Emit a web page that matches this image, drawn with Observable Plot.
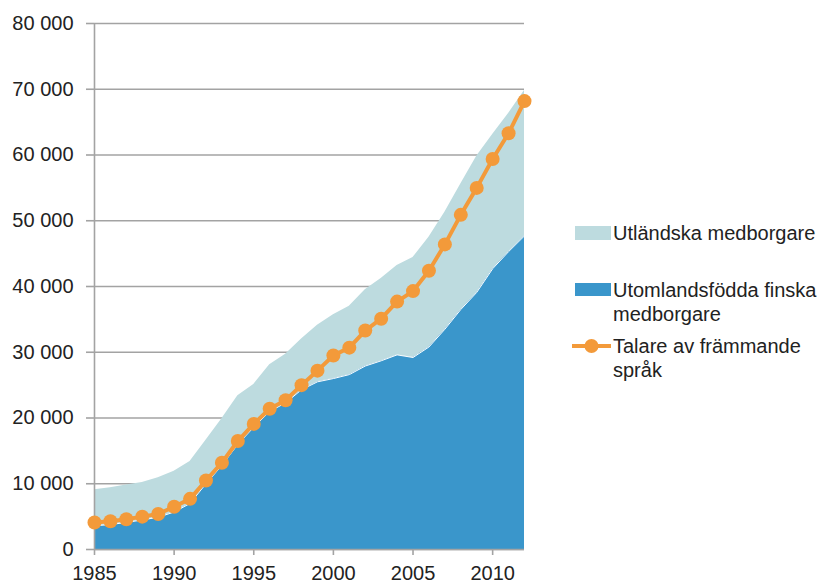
<!DOCTYPE html>
<html>
<head>
<meta charset="utf-8">
<script src="https://cdn.jsdelivr.net/npm/d3@7"></script>
<script src="https://cdn.jsdelivr.net/npm/@observablehq/plot@0.6"></script>
<style>
  html, body { margin: 0; padding: 0; background: #fff; }
  #wrap { position: relative; width: 832px; height: 583px; font-family: "Liberation Sans", Arial, sans-serif; color: #222; }
  .leg { position: absolute; font-size: 20px; line-height: 24px; color: #222; white-space: nowrap; }
  .sw { position: absolute; }
</style>
</head>
<body>
<div id="wrap"></div>
<script>
const years = [1985,1986,1987,1988,1989,1990,1991,1992,1993,1994,1995,1996,1997,1998,1999,2000,2001,2002,2003,2004,2005,2006,2007,2008,2009,2010,2011,2012];
// Utomlandsfödda finska medborgare (bottom layer)
const finskaMedborgare = [3600,3800,4100,4500,4900,5700,7000,10000,12800,16000,18600,21000,22300,24300,25500,26000,26600,27900,28700,29600,29200,30800,33500,36500,39100,42700,45300,47700];
// Utländska medborgare (stacked on top)
const utlandskaMedborgare = [5500,5600,5700,5700,6000,6200,6400,6600,7100,7400,6500,7100,7400,7700,8600,9700,10400,11600,12500,13600,15200,16700,17800,19100,20700,20400,21000,22100];
// Talare av främmande språk (line)
const talare = [4100,4300,4600,5000,5400,6500,7700,10500,13200,16500,19100,21400,22700,25000,27200,29500,30700,33300,35100,37700,39300,42400,46400,50900,55000,59400,63300,68200];

const seriesNames = ["Utländska medborgare", "Utomlandsfödda finska medborgare", "Talare av främmande språk"];
const seriesColors = ["#bddbdf", "#3a96cb", "#f39a3a"];
const yTicks = [0,10000,20000,30000,40000,50000,60000,70000,80000];
const yTickLabels = ["0","10 000","20 000","30 000","40 000","50 000","60 000","70 000","80 000"];
const xTicks = [1985,1990,1995,2000,2005,2010];
const xTickLabels = ["1985","1990","1995","2000","2005","2010"];

const stacked = [];
years.forEach((yr, i) => {
  stacked.push({year: yr, series: seriesNames[1], value: finskaMedborgare[i]});
  stacked.push({year: yr, series: seriesNames[0], value: utlandskaMedborgare[i]});
});
const lineData = years.map((yr, i) => ({year: yr, value: talare[i]}));
const darkData = years.map((yr, i) => ({year: yr, value: finskaMedborgare[i]}));

const grid = "#a3a3a3";
const chart = Plot.plot({
  width: 832,
  height: 583,
  marginLeft: 94,
  marginRight: 308,
  marginTop: 23,
  marginBottom: 34,
  style: {fontSize: "20px", fontFamily: "'Liberation Sans', Arial, sans-serif", color: "#222", background: "transparent", overflow: "visible"},
  x: {domain: [1985, 2012]},
  y: {domain: [0, 80000]},
  color: {domain: [seriesNames[0], seriesNames[1]], range: [seriesColors[0], seriesColors[1]]},
  marks: [
    Plot.gridY(yTicks, {stroke: grid, strokeOpacity: 1, strokeWidth: 1.6}),
    Plot.areaY(stacked, {x: "year", y: "value", z: "series", fill: "series", order: [seriesNames[1], seriesNames[0]]}),
    Plot.lineY(darkData, {x: "year", y: "value", stroke: "#ffffff", strokeWidth: 1}),
    Plot.ruleX([1985], {stroke: grid, strokeWidth: 1.6}),
    Plot.ruleY([0], {stroke: grid, strokeWidth: 1.6}),
    Plot.axisY({ticks: yTicks, tickSize: 8, tickPadding: 13, stroke: grid, strokeWidth: 1.6,
      tickFormat: d => yTickLabels[yTicks.indexOf(d)], label: null}),
    Plot.axisX({ticks: xTicks, tickSize: 6, tickPadding: 10, stroke: grid, strokeWidth: 1.6,
      tickFormat: d => xTickLabels[xTicks.indexOf(d)], label: null}),
    Plot.line(lineData, {x: "year", y: "value", stroke: seriesColors[2], strokeWidth: 4}),
    Plot.dot(lineData, {x: "year", y: "value", r: 7, fill: seriesColors[2], stroke: "none"})
  ]
});
const wrap = document.getElementById("wrap");
wrap.appendChild(chart);

function addSwatch(left, top, w, h, color) {
  const d = document.createElement("div");
  d.className = "sw";
  Object.assign(d.style, {left: left + "px", top: top + "px", width: w + "px", height: h + "px", background: color});
  wrap.appendChild(d);
}
function addText(left, top, html) {
  const d = document.createElement("div");
  d.className = "leg";
  d.style.left = left + "px";
  d.style.top = top + "px";
  d.innerHTML = html;
  wrap.appendChild(d);
}
addSwatch(575, 226, 36, 14, seriesColors[0]);
addText(613, 221, seriesNames[0]);
addSwatch(575, 283, 36, 13, seriesColors[1]);
addText(613, 278, "Utomlandsfödda finska<br>medborgare");
// orange line legend
const ns = "http://www.w3.org/2000/svg";
const ls = document.createElementNS(ns, "svg");
ls.setAttribute("width", 44); ls.setAttribute("height", 20);
Object.assign(ls.style, {position: "absolute", left: "570px", top: "336px"});
const ln = document.createElementNS(ns, "line");
ln.setAttribute("x1", 2); ln.setAttribute("x2", 41); ln.setAttribute("y1", 10); ln.setAttribute("y2", 10);
ln.setAttribute("stroke", seriesColors[2]); ln.setAttribute("stroke-width", 4);
const cc = document.createElementNS(ns, "circle");
cc.setAttribute("cx", 21.5); cc.setAttribute("cy", 10); cc.setAttribute("r", 7); cc.setAttribute("fill", seriesColors[2]);
ls.appendChild(ln); ls.appendChild(cc);
wrap.appendChild(ls);
addText(613, 334, "Talare av främmande<br>språk");
</script>
</body>
</html>
